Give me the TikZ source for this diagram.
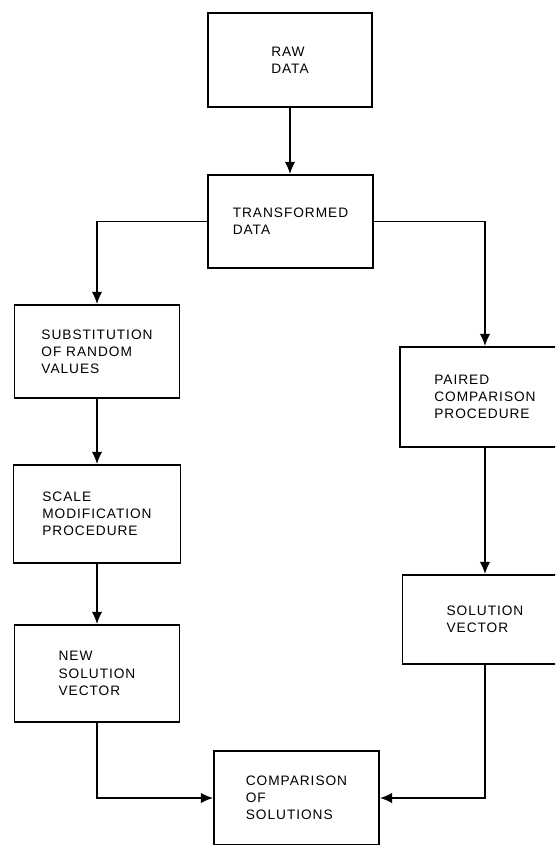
\documentclass[tikz,border=0pt]{standalone}
\usepackage{fontspec}
\setmainfont{Liberation Sans}[LetterSpace=7]
\usetikzlibrary{arrows.meta}
\begin{document}
\begin{tikzpicture}[x=0.02cm,y=-0.02cm,
  box/.style={draw, line width=1pt, rectangle, minimum width=3.3cm,
    minimum height=1.88cm, align=left, inner sep=0pt,
    font=\fontsize{7.8}{9.8}\selectfont},
  flow/.style={draw, line width=1pt, -{Latex[length=7pt,width=6pt]}}]
% page area
\fill[white] (0,0) rectangle (555,845);
\clip (0,0) rectangle (555,845);

% process boxes
\node[box, minimum width=3.28cm] (raw) at (290,60) {RAW\\DATA};
\node[box, minimum height=1.86cm] (trans) at (290.5,221.5) {TRANSFORMED\\DATA};
\node[box, minimum height=1.86cm] (sub) at (97,351.5) {SUBSTITUTION\\OF RANDOM\\VALUES};
\node[box, minimum width=3.34cm, minimum height=1.96cm] (scale) at (97,514) {SCALE\\MODIFICATION\\PROCEDURE};
\node[box, minimum height=1.94cm] (new) at (97,673.5) {NEW\\SOLUTION\\VECTOR};
\node[box, minimum width=3.4cm, minimum height=2.0cm] (paired) at (485,397) {PAIRED\\COMPARISON\\PROCEDURE};
\node[box, minimum width=3.3cm, minimum height=1.78cm] (sol) at (485,619.5) {SOLUTION\\VECTOR};
\node[box] (comp) at (296.5,798) {COMPARISON\\OF\\SOLUTIONS};

% connectors
\draw[flow] (raw.south) -- (raw.south |- trans.north);
\draw[flow] (trans.west) -| (sub.north);
\draw[flow] (trans.east) -| (paired.north);
\draw[flow] (sub) -- (scale);
\draw[flow] (scale) -- (new);
\draw[flow] (paired) -- (sol);
\draw[flow] (new.south) |- (comp.west);
\draw[flow] (sol.south) |- (comp.east);
\end{tikzpicture}
\end{document}
